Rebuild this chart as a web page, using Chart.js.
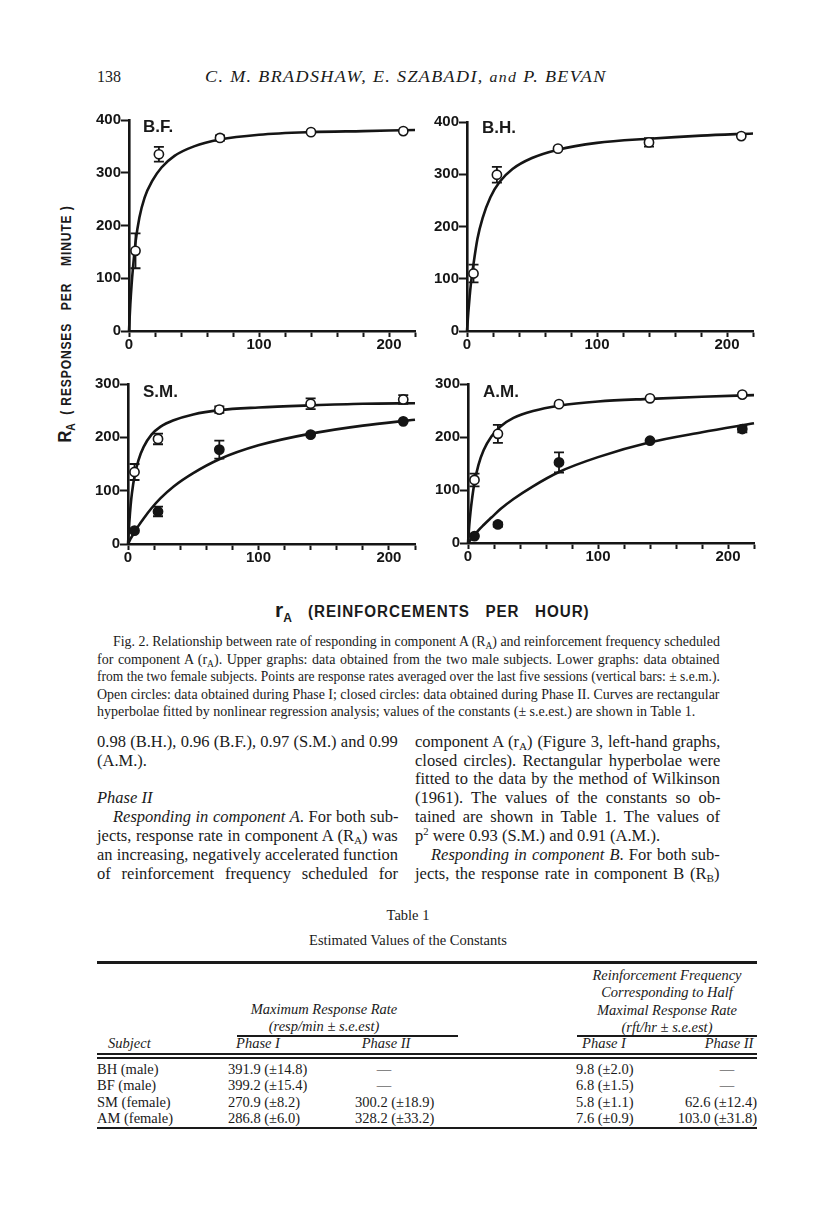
<!DOCTYPE html>
<html>
<head>
<meta charset="utf-8">
<script src="https://cdn.jsdelivr.net/npm/chart.js@4.4.1/dist/chart.umd.min.js"></script>
<style>
  html, body { margin: 0; padding: 0; background: #fff; }
  body { width: 816px; height: 1207px; position: relative; overflow: hidden;
         font-family: 'Liberation Serif', serif; color: #1a1a1a; }
  .ln { position: absolute; white-space: nowrap; }
  .ln > span { display: inline-block; transform-origin: left center; }
  .sub { font-size: 68%; position: relative; top: 3px; }
  .rule { position: absolute; background: #1a1a1a; }
  canvas { position: absolute; }
</style>
</head>
<body>
<canvas id="bfChart"></canvas>
<canvas id="bhChart"></canvas>
<canvas id="smChart"></canvas>
<canvas id="amChart"></canvas>

<script>
// r_A : reinforcement frequencies scheduled (per hour), same for every subject
const rateA = [5, 23, 70, 140, 211];

// R_A : mean response rates (per minute) and s.e.m.
// Phase I = open circles, Phase II = closed circles
const bfPhase1 = [152, 335, 366, 377, 379];
const bfPhase1Sem = [33, 14, 5, 0, 0];
const bhPhase1 = [110, 299, 349, 361, 373];
const bhPhase1Sem = [17, 15, 0, 8, 0];
const smPhase1 = [135, 197, 252, 263, 271];
const smPhase1Sem = [15, 10, 6, 10, 8];
const smPhase2 = [25, 61, 177, 205, 230];
const smPhase2Sem = [0, 9, 17, 0, 0];
const amPhase1 = [119, 206, 262, 273, 280];
const amPhase1Sem = [12, 17, 0, 0, 0];
const amPhase2 = [13, 35, 152, 193, 215];
const amPhase2Sem = [0, 4, 19, 0, 6];

// fitted hyperbolae at these r_A values
const curveX = [0, 1, 2, 3, 5, 8, 12, 18, 25, 35, 50, 70, 100, 140, 180, 220];
const bfCurve1 = [0, 50, 88, 118, 168, 215, 253, 285, 310, 332, 350, 363, 372, 377, 379, 381];
const bhCurve1 = [0, 35, 65, 90, 128, 176, 216, 256, 285, 310, 331, 347, 360, 368, 374, 378];
const smCurve1 = [0, 40, 72, 95, 127, 157, 182, 205, 220, 232, 243, 251, 256, 260, 263, 264];
const smCurve2 = [0, 5, 10, 14, 22, 34, 48, 67, 86, 108, 133, 159, 185, 207, 222, 233];
const amCurve1 = [0, 34, 60, 81, 114, 147, 175, 201, 220, 236, 249, 259, 267, 272, 276, 279];
const amCurve2 = [0, 3, 6, 9, 15, 24, 34, 48, 64, 83, 107, 134, 162, 190, 209, 226];

// axis ticks
const xTickLabels = [0, 100, 200];
const xMax = 220;

// Table 1
const tableSubjects = ['BH (male)', 'BF (male)', 'SM (female)', 'AM (female)'];
const maxRatePhase1 = ['391.9 (±14.8)', '399.2 (±15.4)', '270.9 (±8.2)', '286.8 (±6.0)'];
const maxRatePhase2 = ['—', '—', '300.2 (±18.9)', '328.2 (±33.2)'];
const halfRatePhase1 = ['9.8 (±2.0)', '6.8 (±1.5)', '5.8 (±1.1)', '7.6 (±0.9)'];
const halfRatePhase2 = ['—', '—', '62.6 (±12.4)', '103.0 (±31.8)'];

const INK = '#151515';

// ---------- text helpers ----------
const fitQueue = [];

function addText(html, o) {
  const d = document.createElement('div');
  d.className = 'ln';
  const lh = o.lh || 18;
  d.style.top = (o.y - lh / 2) + 'px';
  d.style.height = lh + 'px';
  d.style.lineHeight = lh + 'px';
  d.style.fontSize = (o.size || 16) + 'px';
  if (o.italic) d.style.fontStyle = 'italic';
  if (o.cx !== undefined) {
    d.style.left = (o.cx - 300) + 'px'; d.style.width = '600px'; d.style.textAlign = 'center';
  } else if (o.right !== undefined) {
    d.style.left = (o.right - 300) + 'px'; d.style.width = '300px'; d.style.textAlign = 'right';
  } else {
    d.style.left = o.left + 'px';
    if (o.width) d.style.width = o.width + 'px';
  }
  if (o.css) Object.assign(d.style, o.css);
  const s = document.createElement('span');
  s.innerHTML = html;
  if (o.indent) s.style.marginLeft = o.indent + 'px';
  d.appendChild(s);
  (o.parent || document.body).appendChild(d);
  if (o.width) fitQueue.push({ s, width: o.width - (o.indent || 0), mode: o.mode || (o.justify ? 'justify' : 'fit') });
  return d;
}

// squeeze lines that are too long, spread justified ones, stretch 'scale' ones
function fitAll() {
  fitQueue.forEach(({ s, width, mode }) => {
    const w = s.offsetWidth;
    if (mode === 'scale' || w > width) {
      s.style.transform = `scaleX(${width / w})`;
    } else if (mode === 'justify') {
      const n = (s.textContent.match(/ /g) || []).length;
      if (n) s.style.wordSpacing = ((width - w) / n) + 'px';
    }
  });
}

function addRule(x1, x2, y, h) {
  const r = document.createElement('div');
  r.className = 'rule';
  r.style.left = x1 + 'px';
  r.style.width = (x2 - x1) + 'px';
  r.style.top = y + 'px';
  r.style.height = h + 'px';
  document.body.appendChild(r);
}

// ---------- charts ----------
const errorBars = {
  id: 'errorBars',
  beforeDatasetsDraw(chart) {
    const { ctx, scales: { x, y } } = chart;
    ctx.save();
    ctx.strokeStyle = INK;
    ctx.lineWidth = 1.8;
    chart.data.datasets.forEach((ds) => {
      if (!ds.sem) return;
      ds.data.forEach((p, i) => {
        const e = ds.sem[i];
        if (!e) return;
        const px = x.getPixelForValue(p.x);
        const yTop = y.getPixelForValue(p.y + e);
        const yBot = y.getPixelForValue(p.y - e);
        ctx.beginPath();
        ctx.moveTo(px, yTop); ctx.lineTo(px, yBot);
        ctx.moveTo(px - 5, yTop); ctx.lineTo(px + 5, yTop);
        ctx.moveTo(px - 5, yBot); ctx.lineTo(px + 5, yBot);
        ctx.stroke();
      });
    });
    ctx.restore();
  }
};

const Y_W = 46, X_H = 26, PAD_T = 14, PAD_R = 12, PAD_B = 2;

function pointsSet(xs, ys, sem, open) {
  return {
    type: 'scatter',
    data: xs.map((x, i) => ({ x: x, y: ys[i] })),
    sem: sem,
    pointRadius: 4.6,
    pointBorderWidth: 1.6,
    pointBorderColor: INK,
    pointBackgroundColor: open ? '#fff' : INK,
    showLine: false,
    clip: false
  };
}

function curveSet(ys) {
  return {
    type: 'line',
    data: curveX.map((x, i) => ({ x: x, y: ys[i] })),
    borderColor: INK,
    borderWidth: 2.6,
    pointRadius: 0,
    cubicInterpolationMode: 'monotone',
    fill: false,
    clip: false
  };
}

function renderPanel(id, plot, yMax, datasets) {
  const canvas = document.getElementById(id);
  const left = plot.left - Y_W;
  const top = plot.top - PAD_T;
  const width = plot.right + PAD_R - left;
  const height = plot.bottom + X_H + PAD_B - top;
  canvas.style.left = left + 'px';
  canvas.style.top = top + 'px';
  canvas.width = width;
  canvas.height = height;

  const tickFont = { family: 'Liberation Sans', weight: 'bold', size: 15 };

  return new Chart(canvas, {
    data: { datasets: datasets },
    options: {
      responsive: false,
      animation: false,
      devicePixelRatio: 1,
      layout: { padding: { left: 0, top: PAD_T, right: PAD_R, bottom: PAD_B } },
      plugins: { legend: { display: false }, tooltip: { enabled: false } },
      scales: {
        x: {
          type: 'linear',
          min: 0,
          max: xMax,
          afterFit: (s) => { s.height = X_H; },
          border: { display: true, color: INK, width: 2.6 },
          grid: { drawOnChartArea: false, drawTicks: true, tickLength: 6, tickWidth: 2, tickColor: INK },
          ticks: {
            stepSize: 20,
            autoSkip: false,
            maxRotation: 0,
            padding: -1,
            color: INK,
            font: tickFont,
            callback: (v) => (xTickLabels.includes(v) ? String(v) : '')
          }
        },
        y: {
          type: 'linear',
          min: 0,
          max: yMax,
          afterFit: (s) => { s.width = Y_W; },
          border: { display: true, color: INK, width: 2.6 },
          grid: { drawOnChartArea: false, drawTicks: true, tickLength: 8, tickWidth: 2, tickColor: INK },
          ticks: { stepSize: 100, padding: 0, color: INK, font: tickFont }
        }
      }
    },
    plugins: [errorBars]
  });
}

renderPanel('bfChart', { left: 129, top: 120, right: 415, bottom: 331 }, 400, [
  pointsSet(rateA, bfPhase1, bfPhase1Sem, true),
  curveSet(bfCurve1)
]);
renderPanel('bhChart', { left: 467, top: 122, right: 753, bottom: 331 }, 400, [
  pointsSet(rateA, bhPhase1, bhPhase1Sem, true),
  curveSet(bhCurve1)
]);
renderPanel('smChart', { left: 128, top: 384, right: 415, bottom: 544 }, 300, [
  pointsSet(rateA, smPhase1, smPhase1Sem, true),
  pointsSet(rateA, smPhase2, smPhase2Sem, false),
  curveSet(smCurve1),
  curveSet(smCurve2)
]);
renderPanel('amChart', { left: 468, top: 384, right: 754, bottom: 543 }, 300, [
  pointsSet(rateA, amPhase1, amPhase1Sem, true),
  pointsSet(rateA, amPhase2, amPhase2Sem, false),
  curveSet(amCurve1),
  curveSet(amCurve2)
]);

// ---------- panel labels & axis titles ----------
const labelCss = { fontFamily: "'Liberation Sans', sans-serif", fontWeight: 'bold' };
addText('B.F.', { left: 143, y: 127, size: 17, lh: 20, css: labelCss });
addText('B.H.', { left: 482, y: 128, size: 17, lh: 20, css: labelCss });
addText('S.M.', { left: 143, y: 392, size: 17, lh: 20, css: labelCss });
addText('A.M.', { left: 483, y: 392, size: 17, lh: 20, css: labelCss });

// rotated y title, reads bottom to top between y=205 and y=442
(function () {
  const w = 237, h = 22, cx = 64, cy = 323.5;
  const holder = document.createElement('div');
  Object.assign(holder.style, {
    position: 'absolute', left: (cx - w / 2) + 'px', top: (cy - h / 2) + 'px',
    width: w + 'px', height: h + 'px', transform: 'rotate(-90deg)'
  });
  document.body.appendChild(holder);
  addText('<span style="font-size:19px;letter-spacing:0">R<span class="sub" style="font-size:12px;top:4px">A</span></span>' +
    '&nbsp;&nbsp;(&nbsp;RESPONSES&nbsp;&nbsp;&nbsp;PER&nbsp;&nbsp;&nbsp;&nbsp;MINUTE&nbsp;)',
    { parent: holder, left: 0, y: h / 2, size: 14, lh: h, width: w, mode: 'scale',
      css: { ...labelCss, letterSpacing: '1px' } });
})();

addText('r<span class="sub" style="font-size:12px;top:5px">A</span>',
  { left: 275, y: 610, size: 21, lh: 24, css: labelCss });
addText('(REINFORCEMENTS&nbsp;&nbsp;&nbsp;PER&nbsp;&nbsp;&nbsp;HOUR)',
  { left: 308, y: 612, size: 16, lh: 20, width: 282, mode: 'scale', css: { ...labelCss, letterSpacing: '1px' } });

// ---------- running head ----------
addText('138', { left: 97, y: 77, size: 16 });
addText('C. M. BRADSHAW, E. SZABADI, <span style="font-size:14px">and</span> P. BEVAN',
  { left: 205, y: 77, size: 16, width: 402, italic: true, mode: 'scale', css: { letterSpacing: '1.2px' } });

// ---------- caption ----------
const capLines = [
  'Fig. 2. Relationship between rate of responding in component A (R<span class="sub">A</span>) and reinforcement frequency scheduled',
  'for component A (r<span class="sub">A</span>). Upper graphs: data obtained from the two male subjects. Lower graphs: data obtained',
  'from the two female subjects. Points are response rates averaged over the last five sessions (vertical bars: ± s.e.m.).',
  'Open circles: data obtained during Phase I; closed circles: data obtained during Phase II. Curves are rectangular',
  'hyperbolae fitted by nonlinear regression analysis; values of the constants (± s.e.est.) are shown in Table 1.'
];
const capY = [641, 659, 676, 694, 711];
capLines.forEach((t, i) => {
  addText(t, { left: 97, y: capY[i], size: 14, lh: 17, width: 623, indent: i === 0 ? 16 : 0,
    justify: i < capLines.length - 1 });
});

// ---------- body text ----------
const bodyY = [741, 760, 778, 797, 816, 835, 854, 873];
const leftCol = [
  ['0.98 (B.H.), 0.96 (B.F.), 0.97 (S.M.) and 0.99', true, 0],
  ['(A.M.).', false, 0],
  null,
  ['<i>Phase II</i>', false, 0],
  ['<i>Responding in component A</i>. For both sub-', true, 16],
  ['jects, response rate in component A (R<span class="sub">A</span>) was', true, 0],
  ['an increasing, negatively accelerated function', true, 0],
  ['of reinforcement frequency scheduled for', true, 0]
];
const rightCol = [
  ['component A (r<span class="sub">A</span>) (Figure 3, left-hand graphs,', true, 0],
  ['closed circles). Rectangular hyperbolae were', true, 0],
  ['fitted to the data by the method of Wilkinson', true, 0],
  ['(1961). The values of the constants so ob-', true, 0],
  ['tained are shown in Table 1. The values of', true, 0],
  ['p<sup style="font-size:65%;line-height:0">2</sup> were 0.93 (S.M.) and 0.91 (A.M.).', false, 0],
  ['<i>Responding in component B</i>. For both sub-', true, 16],
  ['jects, the response rate in component B (R<span class="sub">B</span>)', true, 0]
];
leftCol.forEach((l, i) => {
  if (!l) return;
  addText(l[0], { left: 97, y: bodyY[i], size: 16.5, lh: 19, width: 301, justify: l[1], indent: l[2] });
});
rightCol.forEach((l, i) => {
  addText(l[0], { left: 415, y: bodyY[i], size: 16.5, lh: 19, width: 305, justify: l[1], indent: l[2] });
});

// ---------- table ----------
addText('Table 1', { cx: 408, y: 915, size: 14.5 });
addText('Estimated Values of the Constants', { cx: 408, y: 940, size: 14.5 });

addRule(97, 757, 961, 2.5);
addText('Reinforcement Frequency', { cx: 667, y: 975, size: 14.5, italic: true });
addText('Corresponding to Half', { cx: 667, y: 992, size: 14.5, italic: true });
addText('Maximal Response Rate', { cx: 667, y: 1010, size: 14.5, italic: true });
addText('(rft/hr ± s.e.est)', { cx: 667, y: 1027, size: 14.5, italic: true });
addText('Maximum Response Rate', { cx: 324, y: 1009, size: 14.5, italic: true });
addText('(resp/min ± s.e.est)', { cx: 324, y: 1026, size: 14.5, italic: true });
addRule(237, 458, 1035, 1.5);
addRule(577, 757, 1035, 1.5);

addText('Subject', { left: 108, y: 1043, size: 14.5, italic: true });
addText('Phase I', { cx: 258, y: 1043, size: 14.5, italic: true });
addText('Phase II', { cx: 386, y: 1043, size: 14.5, italic: true });
addText('Phase I', { cx: 604, y: 1043, size: 14.5, italic: true });
addText('Phase II', { cx: 729, y: 1043, size: 14.5, italic: true });
addRule(97, 757, 1053, 1.5);
addRule(97, 757, 1057, 1.5);

const rowY = [1069, 1085, 1102, 1118];
tableSubjects.forEach((s, i) => {
  addText(s, { left: 97, y: rowY[i], size: 14.5 });
  addText(maxRatePhase1[i], { left: 228, y: rowY[i], size: 14.5 });
  if (maxRatePhase2[i] === '—') addText('—', { cx: 384, y: rowY[i], size: 14.5 });
  else addText(maxRatePhase2[i], { left: 355, y: rowY[i], size: 14.5 });
  addText(halfRatePhase1[i], { left: 576, y: rowY[i], size: 14.5 });
  if (halfRatePhase2[i] === '—') addText('—', { cx: 727, y: rowY[i], size: 14.5 });
  else addText(halfRatePhase2[i], { right: 757, y: rowY[i], size: 14.5 });
});
addRule(97, 757, 1127, 1.5);

if (document.fonts && document.fonts.ready) {
  document.fonts.ready.then(fitAll);
} else {
  fitAll();
}
</script>
</body>
</html>
